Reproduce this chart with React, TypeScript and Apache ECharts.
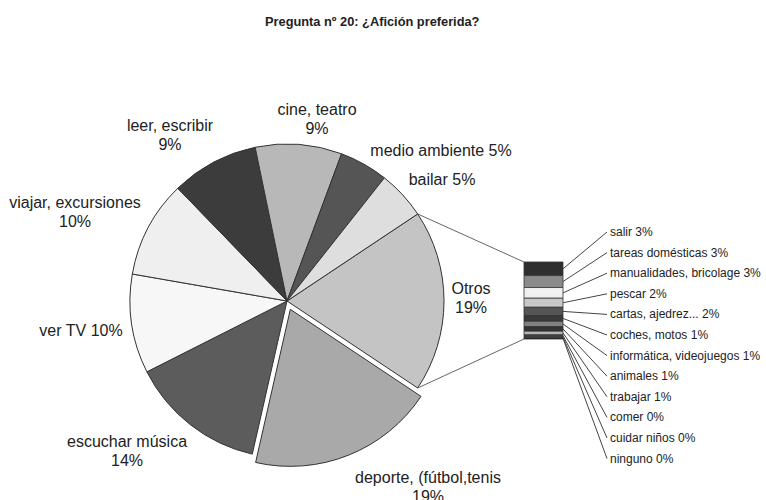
import React, { useEffect, useRef } from "react";
import * as echarts from "echarts";

const FONT = '"Liberation Sans", Arial, sans-serif';

const TITLE = "Pregunta nº 20: ¿Afición preferida?";

const subNames = [
  "salir",
  "tareas domésticas",
  "manualidades, bricolage",
  "pescar",
  "cartas, ajedrez...",
  "coches, motos",
  "informática, videojuegos",
  "animales",
  "trabajar",
  "comer",
  "cuidar niños",
  "ninguno",
];
const subValues = [3.3, 2.9, 2.6, 2.2, 2.0, 1.4, 1.3, 1.1, 0.9, 0.4, 0.3, 0.3];

// Main pie (percent of answers), clockwise from "Otros"
const mainNames = [
  "Otros",
  "deporte, (fútbol,tenis",
  "escuchar música",
  "ver TV",
  "viajar, excursiones",
  "leer, escribir",
  "cine, teatro",
  "medio ambiente",
  "bailar",
];
const otrosValue = subValues.reduce((a, b) => a + b, 0);
const mainValues = [otrosValue, 19.2, 14.0, 10.2, 10.0, 9.0, 8.9, 5.0, 5.0];
const explodedIndex = 1;

// styles / layout
const mainColors = ["#c4c4c4", "#a9a9a9", "#5c5c5c", "#f7f7f7", "#efefef", "#3c3c3c", "#b8b8b8", "#555555", "#dedede"];
const subColors = ["#2e2e2e", "#8a8a8a", "#f0f0f0", "#c8c8c8", "#555555", "#3a3a3a", "#808080", "#333333", "#b5b5b5", "#444444", "#888888", "#222222"];
const singleLine = [3, 7, 8];
const mainLabelPos: [number, number][] = [
  [471, 298],
  [428, 487],
  [127, 451],
  [81, 330],
  [75, 212],
  [170, 135],
  [317, 119],
  [441, 150],
  [442, 179],
];

const PIE_CX = 287;
const PIE_CY = 301;
const PIE_R = 157;
const BAR_LEFT = 524;
const BAR_TOP = 262;
const BAR_W = 39;
const BAR_H = 77;

export default function App() {
  const ref = useRef<HTMLDivElement>(null);
  useEffect(() => {
    if (!ref.current) return;
    const chart = echarts.init(ref.current, null, { renderer: "svg" });
    const total = mainValues.reduce((a, b) => a + b, 0);
    const half = (otrosValue / total) * 180;
    const hr = (half * Math.PI) / 180;
    const px = PIE_CX + PIE_R * Math.cos(hr);
    const pyTop = PIE_CY - PIE_R * Math.sin(hr);
    const pyBot = PIE_CY + PIE_R * Math.sin(hr);

    let acc = 0;
    const subData = subValues.map((v) => {
      const s = acc;
      acc += v;
      return [0, s, acc];
    });

    const hidden = { color: "rgba(0,0,0,0)", borderWidth: 0 };
    const pieBase = {
      type: "pie",
      center: [PIE_CX, PIE_CY],
      radius: PIE_R,
      startAngle: half,
      clockwise: true,
      avoidLabelOverlap: false,
      emphasis: { disabled: true },
      itemStyle: { borderColor: "#333", borderWidth: 1 },
      labelLine: { show: false },
    };

    chart.setOption({
      animation: false,
      backgroundColor: "#ffffff",
      title: {
        text: TITLE,
        left: 260,
        top: 10,
        textStyle: { fontFamily: FONT, fontSize: 12.8, fontWeight: "bold", color: "#222" },
      },
      grid: { left: BAR_LEFT, top: BAR_TOP, width: BAR_W, height: BAR_H },
      xAxis: { type: "category", data: ["Otros"], show: false },
      yAxis: { type: "value", min: 0, max: otrosValue, inverse: true, show: false },
      graphic: [
        {
          type: "line",
          shape: { x1: px, y1: pyTop, x2: BAR_LEFT, y2: BAR_TOP },
          style: { stroke: "#666", lineWidth: 1 },
          z: 1,
        },
        {
          type: "line",
          shape: { x1: px, y1: pyBot, x2: BAR_LEFT, y2: BAR_TOP + BAR_H },
          style: { stroke: "#666", lineWidth: 1 },
          z: 1,
        },
      ],
      series: [
        {
          ...pieBase,
          label: {
            show: true,
            position: "outside",
            fontFamily: FONT,
            fontSize: 16,
            lineHeight: 19,
            color: "#222",
            align: "center",
            formatter: (p: any) =>
              p.name + (singleLine.includes(p.dataIndex) ? " " : "\n") + Math.round(p.value) + "%",
          },
          labelLayout: (p: any) => {
            const pos = mainLabelPos[p.dataIndex];
            return { x: pos[0], y: pos[1], align: "center", verticalAlign: "middle" };
          },
          data: mainNames.map((n, i) => ({
            name: n,
            value: mainValues[i],
            itemStyle: i === explodedIndex ? hidden : { color: mainColors[i] },
          })),
        },
        {
          ...pieBase,
          selectedMode: "single",
          selectedOffset: 9,
          label: { show: false },
          data: mainNames.map((n, i) => ({
            name: n,
            value: mainValues[i],
            selected: i === explodedIndex,
            itemStyle: i === explodedIndex ? { color: mainColors[i] } : hidden,
          })),
        },
        {
          type: "custom",
          data: subData,
          renderItem: (params: any, api: any) => {
            const i = params.dataIndex;
            const a = api.coord([0, api.value(1)]);
            const b = api.coord([0, api.value(2)]);
            const w = api.size([1, 0])[0];
            const x0 = a[0] - w / 2;
            const x1 = a[0] + w / 2;
            const top = api.coord([0, 0])[1];
            const ly = top - 30 + i * 20.6;
            const midY = (a[1] + b[1]) / 2;
            return {
              type: "group",
              children: [
                {
                  type: "rect",
                  shape: { x: x0, y: a[1], width: w, height: b[1] - a[1] },
                  style: { fill: subColors[i], stroke: "#333", lineWidth: 0.8 },
                },
                {
                  type: "line",
                  shape: { x1: x1, y1: midY, x2: x1 + 44, y2: ly },
                  style: { stroke: "#444", lineWidth: 1 },
                },
                {
                  type: "text",
                  style: {
                    text: `${subNames[i]} ${Math.round(subValues[i])}%`,
                    x: x1 + 47,
                    y: ly,
                    fill: "#222",
                    fontSize: 12,
                    fontFamily: FONT,
                    align: "left",
                    verticalAlign: "middle",
                  },
                },
              ],
            };
          },
        },
      ],
    });
    return () => chart.dispose();
  }, []);
  return (
    <div
      ref={ref}
      style={{ position: "absolute", left: 0, top: 0, width: 766, height: 500 }}
    />
  );
}
